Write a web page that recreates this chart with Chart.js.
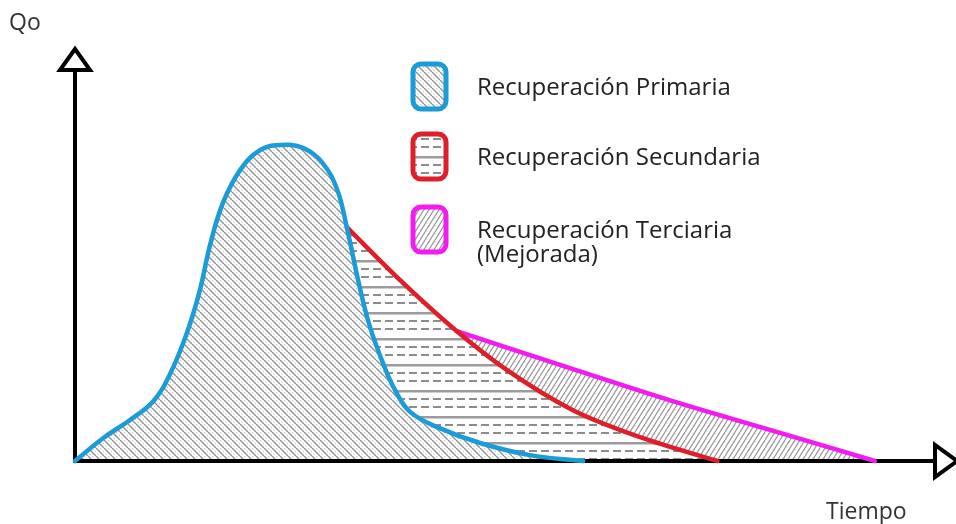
<!DOCTYPE html>
<html>
<head>
<meta charset="utf-8">
<script src="https://cdn.jsdelivr.net/npm/chart.js@4"></script>
<style>
  body { margin: 0; background: #fff; }
  #wrap { width: 956px; height: 524px; position: relative; }
</style>
</head>
<body>
<div id="wrap"><canvas id="curva"></canvas></div>
<script>
"use strict";

// labels for the three recovery stages
const stageLabels = ['Recuperación Primaria', 'Recuperación Secundaria', ['Recuperación Terciaria', '(Mejorada)']];
const axisTitles = ['Qo', 'Tiempo'];

// primary recovery (blue curve): time / rate (0-100 units)
const primT = [0, 3.3, 6.4, 9.1, 11.0, 13.0, 14.5, 15.7, 17.2, 19.2, 21.5, 23.8, 26.5, 28.8, 30.5, 31.6, 33.1, 34.3, 35.8, 37.2, 39.0, 42.4, 47.1, 52.9, 59.1];
const primQ = [0, 5.9, 10.5, 15.3, 22.0, 32.7, 43.5, 55.2, 66.0, 74.4, 79.5, 80.8, 80.1, 76.2, 69.3, 59.8, 44.5, 34.3, 25.1, 18.2, 12.5, 8.4, 4.6, 1.5, 0];

// secondary recovery (red curve)
const secT = [31.6, 37.4, 44.4, 50.2, 57.9, 65.7, 74.7];
const secQ = [59.8, 47.1, 33.2, 23.3, 13.0, 6.1, 0];

// tertiary / enhanced recovery (magenta curve)
const terT = [44.4, 57.9, 69.5, 81.2, 93.0];
const terQ = [33.2, 23.5, 15.3, 7.7, 0];

const colors = ['#1b9bd7', '#de1f2a', '#f21cf0'];

function toPoints(xs, ys) {
    return xs.map((x, i) => ({ x: x, y: ys[i] }));
}

// hatch patterns, white backed so the areas can stack on each other
function makePattern(kind) {
    const c = document.createElement('canvas');
    const g = c.getContext('2d');
    if (kind === 'primary') {
        const s = 8;
        c.width = s; c.height = s;
        g.fillStyle = '#fff';
        g.fillRect(0, 0, s, s);
        g.lineWidth = 1.5;
        g.strokeStyle = '#979797';
        for (let k = -1; k <= 1; k++) {
            g.beginPath();
            g.moveTo(k * s, 0);
            g.lineTo(k * s + s, s);
            g.stroke();
        }
        g.lineWidth = 1;
        g.strokeStyle = '#bdbdbd';
        g.setLineDash([2, 2]);
        for (let k = -1; k <= 1; k++) {
            g.beginPath();
            g.moveTo(k * s + s / 2, 0);
            g.lineTo(k * s + s / 2 + s, s);
            g.stroke();
        }
    } else if (kind === 'secondary') {
        c.width = 12; c.height = 26;
        g.fillStyle = '#fff';
        g.fillRect(0, 0, 12, 26);
        g.fillStyle = '#9c9c9c';
        g.fillRect(0, 0, 12, 2.5);
        g.fillStyle = '#8c8c8c';
        g.fillRect(1, 8, 8, 2);
        g.fillRect(1, 16, 8, 2);
    } else {
        const w = 5, h = 8;
        c.width = w; c.height = h;
        g.fillStyle = '#fff';
        g.fillRect(0, 0, w, h);
        g.lineWidth = 1.3;
        g.strokeStyle = '#9a9a9a';
        for (let k = -1; k <= 1; k++) {
            g.beginPath();
            g.moveTo(k * w, h);
            g.lineTo(k * w + w, 0);
            g.stroke();
        }
    }
    return g.createPattern(c, 'repeat');
}

const patterns = [makePattern('primary'), makePattern('secondary'), makePattern('tertiary')];

// hand drawn axes with hollow arrow heads, drawn over the fills, under the curves
const axesPlugin = {
    id: 'arrowAxes',
    beforeDatasetsDraw(chart) {
        const c = chart.ctx;
        const x0 = chart.scales.x.getPixelForValue(0);
        const x1 = chart.scales.x.getPixelForValue(100);
        const y0 = chart.scales.y.getPixelForValue(0);
        const y1 = chart.scales.y.getPixelForValue(100);
        c.save();
        c.strokeStyle = '#000';
        c.lineWidth = 4;
        c.lineCap = 'butt';
        c.beginPath();
        c.moveTo(x0, y0 + 2);
        c.lineTo(x0, y1);
        c.moveTo(x0 - 2, y0);
        c.lineTo(x1, y0);
        c.stroke();
        c.lineJoin = 'miter';
        c.fillStyle = '#fff';
        // up arrow
        c.beginPath();
        c.moveTo(x0 - 15, y1);
        c.lineTo(x0 + 15, y1);
        c.lineTo(x0, y1 - 21);
        c.closePath();
        c.fill();
        c.stroke();
        // right arrow
        c.beginPath();
        c.moveTo(x1, y0 - 16);
        c.lineTo(x1, y0 + 16);
        c.lineTo(x1 + 22, y0);
        c.closePath();
        c.fill();
        c.stroke();
        c.restore();
    },
    afterDraw(chart) {
        const c = chart.ctx;
        c.save();
        c.fillStyle = '#333';
        c.font = '23px "Open Sans"';
        c.textBaseline = 'alphabetic';
        c.fillText(axisTitles[0], 9, 30);
        c.fillText(axisTitles[1], 826, 519);
        c.restore();
    }
};

// legend: rounded boxes filled with the same hatch
const legendPlugin = {
    id: 'hatchLegend',
    afterDraw(chart) {
        const c = chart.ctx;
        const boxTops = [64, 134, 207];
        const baselines = [95, 165, 238];
        c.save();
        chart.data.datasets.forEach((ds, i) => {
            const bx = 413, by = boxTops[i], bw = 33, bh = 45;
            c.beginPath();
            c.roundRect(bx, by, bw, bh, 8);
            c.fillStyle = ds.backgroundColor;
            c.fill();
            c.lineWidth = 5;
            c.strokeStyle = ds.borderColor;
            c.stroke();
            c.fillStyle = '#222';
            c.font = '24px "Open Sans"';
            const lines = Array.isArray(ds.label) ? ds.label : [ds.label];
            lines.forEach((t, j) => c.fillText(t, 477, baselines[i] + j * 24));
        });
        c.restore();
    }
};

new Chart(document.querySelector('#curva'), {
    type: 'line',
    data: {
        datasets: [primT, secT, terT].map((xs, i) => ({
            label: stageLabels[i],
            data: toPoints(xs, [primQ, secQ, terQ][i]),
            borderColor: colors[i],
            backgroundColor: patterns[i],
            borderWidth: 4.5,
            pointRadius: 0,
            fill: 'origin',
            tension: 0.4,
            cubicInterpolationMode: i === 0 ? 'default' : 'monotone',
            clip: false,
            borderCapStyle: 'round'
        }))
    },
    options: {
        responsive: true,
        maintainAspectRatio: false,
        animation: false,
        events: [],
        layout: { padding: { left: 75, right: 21, top: 70, bottom: 63 } },
        scales: {
            x: { type: 'linear', min: 0, max: 100, display: false },
            y: { type: 'linear', min: 0, max: 100, display: false }
        },
        plugins: {
            legend: { display: false },
            tooltip: { enabled: false },
            filler: { drawTime: 'beforeDatasetsDraw' }
        }
    },
    plugins: [axesPlugin, legendPlugin]
});
</script>
</body>
</html>
